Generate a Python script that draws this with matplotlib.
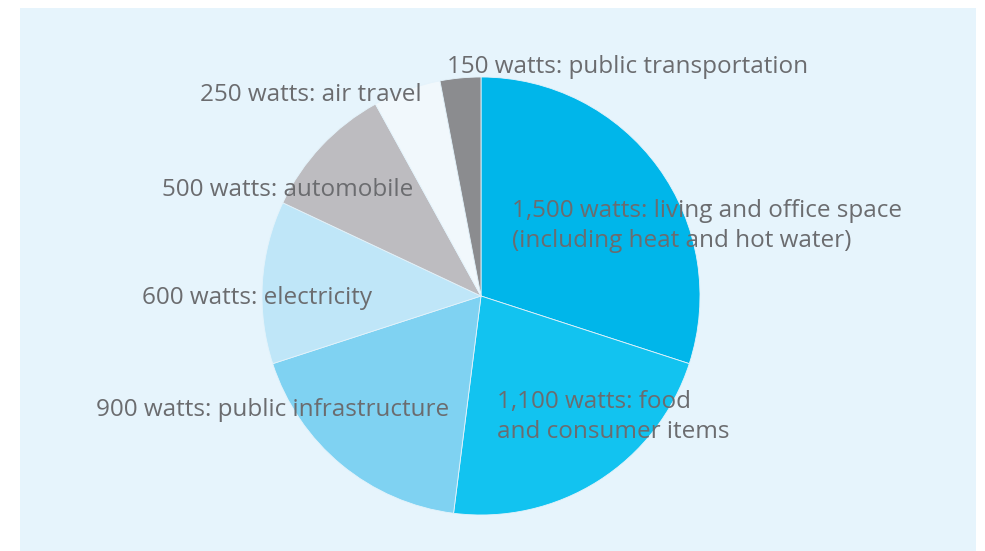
import matplotlib
matplotlib.use("Agg")
import matplotlib.pyplot as plt
from matplotlib.patches import Rectangle

watts = [1500, 1100, 900, 600, 500, 250, 150]
labels = ["1,500 watts: living and office space\n(including heat and hot water)",
          "1,100 watts: food\nand consumer items",
          "900 watts: public infrastructure",
          "600 watts: electricity",
          "500 watts: automobile",
          "250 watts: air travel",
          "150 watts: public transportation"]
colors = ["#00b6ea", "#12c3f0", "#7fd2f2", "#bfe6f8", "#bdbcc0", "#f1f8fc", "#8b8c8f"]

# label anchors in pie units (radius = 1)
label_xy = [(0.142, 0.32), (0.073, -0.553), (-1.758, -0.52), (-1.548, -0.01),
            (-1.457, 0.483), (-1.283, 0.92), (-0.155, 1.045)]

fig = plt.figure(figsize=(9.85, 5.51), dpi=100)
fig.patches.append(Rectangle((20 / 985, 0), 956 / 985, 543 / 551,
                             transform=fig.transFigure, facecolor="#e6f4fc",
                             edgecolor="none", zorder=-10))
ax = fig.add_axes([0, 0, 1, 1])
ax.set_facecolor("none")
ax.set_zorder(5)

ax.pie(watts, colors=colors, startangle=90, counterclock=False, radius=1,
       wedgeprops=dict(edgecolor="#e4f3fb", linewidth=0.6))

for lab, (x, y) in zip(labels, label_xy):
    ax.text(x, y, lab, ha="left", va="center", fontsize=17.5, color="#6b6c6f",
            family="Open Sans", linespacing=1.3)

ax.set_xlim(-481 / 219, (985 - 481) / 219)
ax.set_ylim((296 - 551) / 219, 296 / 219)
ax.set_aspect("auto")
ax.axis("off")

fig.savefig("out.png", dpi=100)
